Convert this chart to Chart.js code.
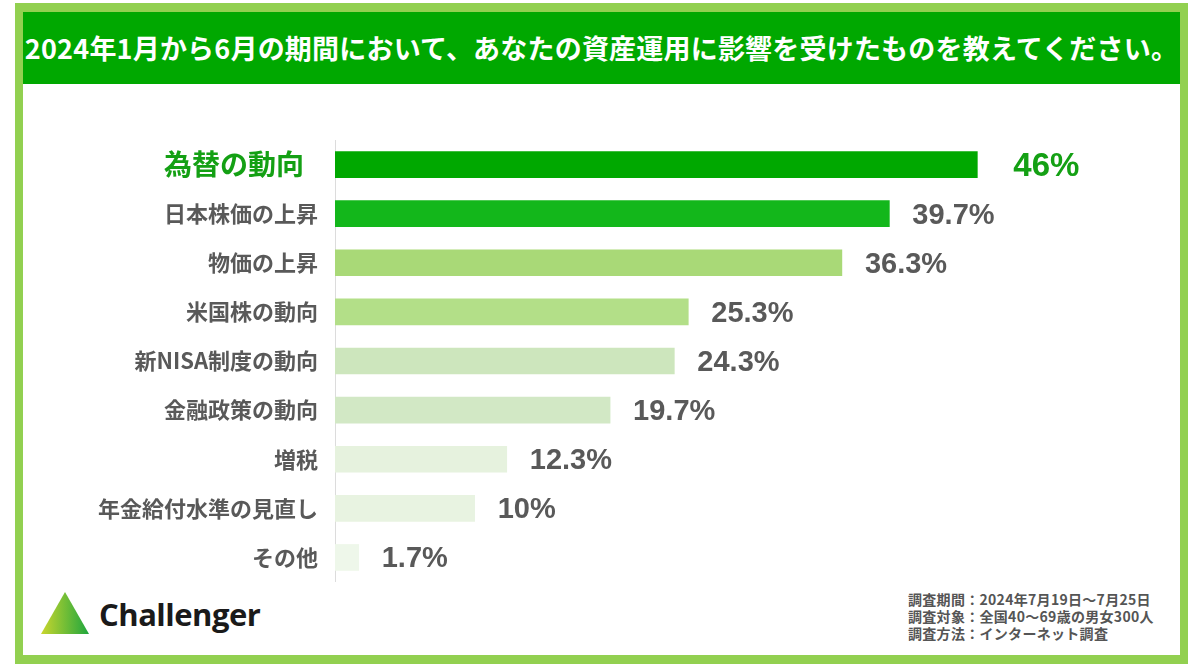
<!DOCTYPE html>
<html lang="ja">
<head>
<meta charset="utf-8">
<script src="https://cdn.jsdelivr.net/npm/chart.js@4.4.1/dist/chart.umd.min.js"></script>
<style>
  html, body { margin: 0; padding: 0; background: #fff; }
  body { width: 1200px; height: 668px; position: relative; overflow: hidden;
         font-family: "Noto Sans CJK JP", "Noto Sans", sans-serif; }
  .frame { position: absolute; left: 15px; top: 3px; width: 1157px; height: 643px;
           border: 8px solid #92d050; border-top-width: 9px; border-bottom-width: 9px; background: #fff; }
  .title { position: absolute; left: 23px; top: 12px; width: 1157px; height: 72px;
           background: #00a800; color: #fff; font-weight: bold; font-size: 27px;
           line-height: 72px; text-align: center; letter-spacing: 0.2px; white-space: nowrap; }
  .chart-box { position: absolute; left: 24px; top: 130px; width: 1156px; height: 452px; }
  .logo { position: absolute; left: 41px; top: 592px; width: 48px; height: 42px; }
  .brand { position: absolute; left: 99px; top: 594px; font-family: "Open Sans", sans-serif;
           font-weight: bold; font-size: 31px; color: #1a1a1a; letter-spacing: -0.5px; line-height: 40px; }
  .notes { position: absolute; left: 908px; top: 591px; font-size: 14px; font-weight: bold;
           color: #555; line-height: 17px; letter-spacing: 0.3px; white-space: nowrap; }
</style>
</head>
<body>
<div class="frame"></div>
<div class="title">2024年1月から6月の期間において、あなたの資産運用に影響を受けたものを教えてください。</div>
<div class="chart-box"><canvas id="impactChart"></canvas></div>
<svg class="logo" viewBox="0 0 48 42">
  <defs>
    <linearGradient id="lg" x1="0" y1="0" x2="1" y2="0">
      <stop offset="0" stop-color="#c9d62e"/>
      <stop offset="1" stop-color="#1fa63e"/>
    </linearGradient>
  </defs>
  <polygon points="24,0 48,42 0,42" fill="url(#lg)"/>
</svg>
<div class="brand">Challenger</div>
<div class="notes">調査期間：2024年7月19日～7月25日<br>調査対象：全国40～69歳の男女300人<br>調査方法：インターネット調査</div>

<script>
const categories = ['為替の動向', '日本株価の上昇', '物価の上昇', '米国株の動向', '新NISA制度の動向',
                    '金融政策の動向', '増税', '年金給付水準の見直し', 'その他'];
const shares = [46, 39.7, 36.3, 25.3, 24.3, 19.7, 12.3, 10, 1.7];
const barColors = ['#00a800', '#13b71b', '#a9d977', '#b3df88', '#cde6bd',
                   '#d2e8c5', '#e6f2de', '#e8f3e1', '#eef7ea'];

const highlight = '#14a014';
const gray = '#595959';

// value labels to the right of each bar
const valueLabels = {
    id: 'valueLabels',
    afterDatasetsDraw(chart) {
        const { ctx } = chart;
        const meta = chart.getDatasetMeta(0);
        ctx.save();
        ctx.textBaseline = 'middle';
        ctx.textAlign = 'left';
        meta.data.forEach((bar, i) => {
            const first = i === 0;
            ctx.font = `bold ${first ? 33 : 29}px "Liberation Sans", Arial, sans-serif`;
            ctx.fillStyle = first ? highlight : gray;
            ctx.fillText(shares[i] + '%', bar.x + (first ? 36 : 23), bar.y + 2);
        });
        ctx.restore();
    }
};

function initializeChart() {
    const ctx = document.getElementById('impactChart');
    if (!ctx) return;

    new Chart(ctx, {
        type: 'bar',
        data: {
            labels: categories,
            datasets: [{
                data: shares,
                backgroundColor: barColors,
                barThickness: 26
            }]
        },
        options: {
            indexAxis: 'y',
            responsive: true,
            maintainAspectRatio: false,
            animation: false,
            layout: { padding: { top: 10, right: 77, bottom: 0, left: 0 } },
            scales: {
                x: {
                    display: false,
                    min: 0,
                    max: 55
                },
                y: {
                    afterFit(scale) {
                        scale.width = 311;
                        // no extra room for the label halves
                        scale.paddingTop = 0;
                        scale.paddingBottom = 0;
                    },
                    grid: { display: false, drawTicks: false },
                    border: { display: true, color: '#dcdcdc', width: 1 },
                    ticks: {
                        padding: 17,
                        color: (c) => c.index === 0 ? highlight : gray,
                        font: (c) => ({
                            family: '"Noto Sans CJK JP", sans-serif',
                            weight: 'bold',
                            size: c.index === 0 ? 28 : 22
                        }),
                        callback(value, index) {
                            return index === 0 ? categories[index] + '\u2002' : categories[index];
                        }
                    }
                }
            },
            plugins: {
                legend: { display: false },
                tooltip: { enabled: false }
            }
        },
        plugins: [valueLabels]
    });
}

initializeChart();
</script>
</body>
</html>
